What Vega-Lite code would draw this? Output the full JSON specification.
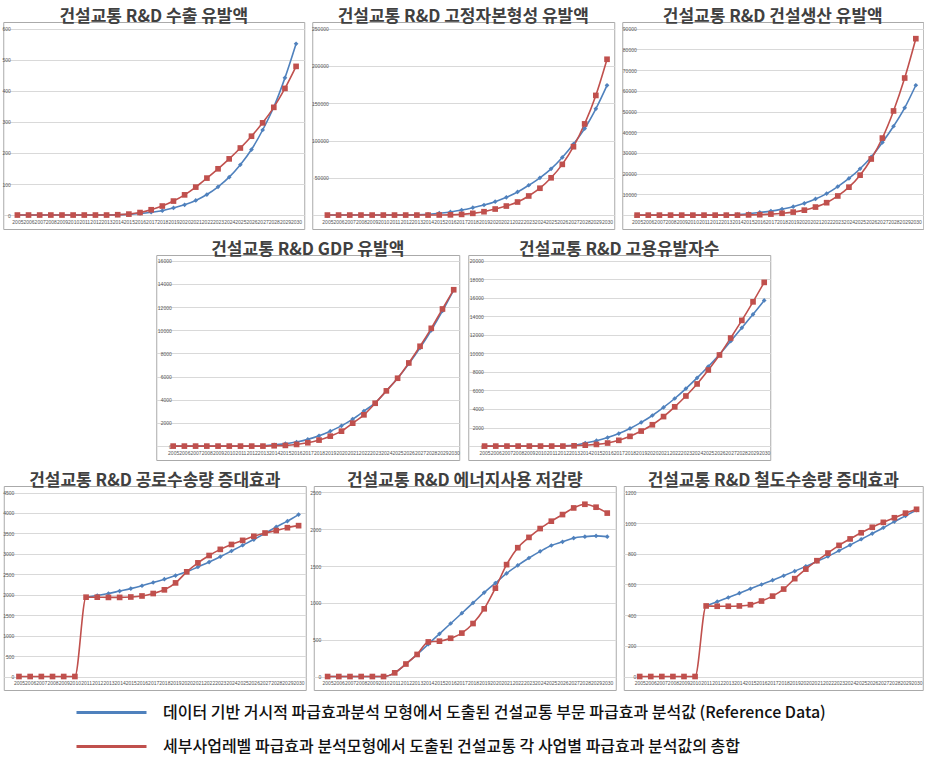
{
  "$schema": "https://vega.github.io/schema/vega-lite/v6.json",
  "background": "white",
  "padding": {"left": 1, "top": 7, "right": 0, "bottom": 0},
  "datasets": {
    "d": [
      {"p":1,"year":2005,"a":0,"b":0},{"p":1,"year":2006,"a":0,"b":0},{"p":1,"year":2007,"a":0,"b":0},{"p":1,"year":2008,"a":0,"b":0},{"p":1,"year":2009,"a":0,"b":0},{"p":1,"year":2010,"a":0,"b":0},{"p":1,"year":2011,"a":0,"b":0},{"p":1,"year":2012,"a":0,"b":0},{"p":1,"year":2013,"a":0,"b":0},{"p":1,"year":2014,"a":0.5,"b":1},{"p":1,"year":2015,"a":2,"b":3},{"p":1,"year":2016,"a":5,"b":8},{"p":1,"year":2017,"a":9,"b":17},{"p":1,"year":2018,"a":14,"b":29},{"p":1,"year":2019,"a":23,"b":45},{"p":1,"year":2020,"a":33,"b":65},{"p":1,"year":2021,"a":47,"b":90},{"p":1,"year":2022,"a":66,"b":119},{"p":1,"year":2023,"a":91,"b":149},{"p":1,"year":2024,"a":122,"b":181},{"p":1,"year":2025,"a":162,"b":216},{"p":1,"year":2026,"a":211,"b":254},{"p":1,"year":2027,"a":274,"b":297},{"p":1,"year":2028,"a":348,"b":347},{"p":1,"year":2029,"a":442,"b":408},{"p":1,"year":2030,"a":552,"b":479},
      {"p":2,"year":2005,"a":0,"b":0},{"p":2,"year":2006,"a":0,"b":0},{"p":2,"year":2007,"a":0,"b":0},{"p":2,"year":2008,"a":0,"b":0},{"p":2,"year":2009,"a":0,"b":0},{"p":2,"year":2010,"a":0,"b":0},{"p":2,"year":2011,"a":0,"b":0},{"p":2,"year":2012,"a":0,"b":0},{"p":2,"year":2013,"a":300,"b":0},{"p":2,"year":2014,"a":1000,"b":0},{"p":2,"year":2015,"a":2500,"b":100},{"p":2,"year":2016,"a":4200,"b":300},{"p":2,"year":2017,"a":6700,"b":900},{"p":2,"year":2018,"a":9900,"b":2300},{"p":2,"year":2019,"a":13500,"b":4500},{"p":2,"year":2020,"a":18000,"b":8100},{"p":2,"year":2021,"a":23800,"b":12100},{"p":2,"year":2022,"a":31000,"b":17500},{"p":2,"year":2023,"a":40000,"b":25600},{"p":2,"year":2024,"a":50000,"b":36000},{"p":2,"year":2025,"a":62000,"b":50000},{"p":2,"year":2026,"a":77300,"b":68000},{"p":2,"year":2027,"a":95300,"b":91700},{"p":2,"year":2028,"a":116000,"b":122300},{"p":2,"year":2029,"a":142500,"b":160500},{"p":2,"year":2030,"a":174000,"b":209000},
      {"p":3,"year":2005,"a":0,"b":0},{"p":3,"year":2006,"a":0,"b":0},{"p":3,"year":2007,"a":0,"b":0},{"p":3,"year":2008,"a":0,"b":0},{"p":3,"year":2009,"a":0,"b":0},{"p":3,"year":2010,"a":0,"b":0},{"p":3,"year":2011,"a":0,"b":0},{"p":3,"year":2012,"a":0,"b":0},{"p":3,"year":2013,"a":100,"b":0},{"p":3,"year":2014,"a":300,"b":0},{"p":3,"year":2015,"a":700,"b":100},{"p":3,"year":2016,"a":1300,"b":200},{"p":3,"year":2017,"a":1950,"b":500},{"p":3,"year":2018,"a":2900,"b":900},{"p":3,"year":2019,"a":4060,"b":1460},{"p":3,"year":2020,"a":5700,"b":2400},{"p":3,"year":2021,"a":7800,"b":3900},{"p":3,"year":2022,"a":10400,"b":6000},{"p":3,"year":2023,"a":13800,"b":9250},{"p":3,"year":2024,"a":17700,"b":13500},{"p":3,"year":2025,"a":22400,"b":19300},{"p":3,"year":2026,"a":28100,"b":27100},{"p":3,"year":2027,"a":35100,"b":37200},{"p":3,"year":2028,"a":42900,"b":50300},{"p":3,"year":2029,"a":51800,"b":66200},{"p":3,"year":2030,"a":62700,"b":85200},
      {"p":4,"year":2005,"a":0,"b":0},{"p":4,"year":2006,"a":0,"b":0},{"p":4,"year":2007,"a":0,"b":0},{"p":4,"year":2008,"a":0,"b":0},{"p":4,"year":2009,"a":0,"b":0},{"p":4,"year":2010,"a":0,"b":0},{"p":4,"year":2011,"a":0,"b":0},{"p":4,"year":2012,"a":0,"b":0},{"p":4,"year":2013,"a":30,"b":0},{"p":4,"year":2014,"a":115,"b":30},{"p":4,"year":2015,"a":210,"b":60},{"p":4,"year":2016,"a":350,"b":145},{"p":4,"year":2017,"a":580,"b":290},{"p":4,"year":2018,"a":890,"b":520},{"p":4,"year":2019,"a":1290,"b":860},{"p":4,"year":2020,"a":1750,"b":1290},{"p":4,"year":2021,"a":2330,"b":1980},{"p":4,"year":2022,"a":3020,"b":2700},{"p":4,"year":2023,"a":3735,"b":3700},{"p":4,"year":2024,"a":4770,"b":4770},{"p":4,"year":2025,"a":5860,"b":5860},{"p":4,"year":2026,"a":7100,"b":7180},{"p":4,"year":2027,"a":8480,"b":8620},{"p":4,"year":2028,"a":10000,"b":10170},{"p":4,"year":2029,"a":11670,"b":11840},{"p":4,"year":2030,"a":13480,"b":13500},
      {"p":5,"year":2005,"a":0,"b":0},{"p":5,"year":2006,"a":0,"b":0},{"p":5,"year":2007,"a":0,"b":0},{"p":5,"year":2008,"a":0,"b":0},{"p":5,"year":2009,"a":0,"b":0},{"p":5,"year":2010,"a":0,"b":0},{"p":5,"year":2011,"a":0,"b":0},{"p":5,"year":2012,"a":20,"b":0},{"p":5,"year":2013,"a":100,"b":30},{"p":5,"year":2014,"a":330,"b":100},{"p":5,"year":2015,"a":580,"b":180},{"p":5,"year":2016,"a":920,"b":330},{"p":5,"year":2017,"a":1350,"b":620},{"p":5,"year":2018,"a":1900,"b":1050},{"p":5,"year":2019,"a":2550,"b":1620},{"p":5,"year":2020,"a":3300,"b":2300},{"p":5,"year":2021,"a":4170,"b":3180},{"p":5,"year":2022,"a":5130,"b":4230},{"p":5,"year":2023,"a":6200,"b":5400},{"p":5,"year":2024,"a":7350,"b":6700},{"p":5,"year":2025,"a":8580,"b":8200},{"p":5,"year":2026,"a":9880,"b":9820},{"p":5,"year":2027,"a":11300,"b":11650},{"p":5,"year":2028,"a":12750,"b":13550},{"p":5,"year":2029,"a":14200,"b":15550},{"p":5,"year":2030,"a":15700,"b":17650},
      {"p":6,"year":2005,"a":null,"b":0},{"p":6,"year":2006,"a":null,"b":0},{"p":6,"year":2007,"a":null,"b":0},{"p":6,"year":2008,"a":null,"b":0},{"p":6,"year":2009,"a":null,"b":0},{"p":6,"year":2010,"a":null,"b":0},{"p":6,"year":2011,"a":1940,"b":1940},{"p":6,"year":2012,"a":1980,"b":1940},{"p":6,"year":2013,"a":2030,"b":1935},{"p":6,"year":2014,"a":2090,"b":1935},{"p":6,"year":2015,"a":2150,"b":1945},{"p":6,"year":2016,"a":2220,"b":1970},{"p":6,"year":2017,"a":2300,"b":2030},{"p":6,"year":2018,"a":2380,"b":2120},{"p":6,"year":2019,"a":2470,"b":2290},{"p":6,"year":2020,"a":2560,"b":2560},{"p":6,"year":2021,"a":2680,"b":2780},{"p":6,"year":2022,"a":2800,"b":2960},{"p":6,"year":2023,"a":2930,"b":3110},{"p":6,"year":2024,"a":3070,"b":3230},{"p":6,"year":2025,"a":3210,"b":3330},{"p":6,"year":2026,"a":3350,"b":3430},{"p":6,"year":2027,"a":3500,"b":3510},{"p":6,"year":2028,"a":3660,"b":3570},{"p":6,"year":2029,"a":3800,"b":3640},{"p":6,"year":2030,"a":3960,"b":3690},
      {"p":7,"year":2005,"a":0,"b":0},{"p":7,"year":2006,"a":0,"b":0},{"p":7,"year":2007,"a":0,"b":0},{"p":7,"year":2008,"a":0,"b":0},{"p":7,"year":2009,"a":0,"b":0},{"p":7,"year":2010,"a":0,"b":0},{"p":7,"year":2011,"a":50,"b":50},{"p":7,"year":2012,"a":170,"b":170},{"p":7,"year":2013,"a":300,"b":300},{"p":7,"year":2014,"a":440,"b":470},{"p":7,"year":2015,"a":580,"b":480},{"p":7,"year":2016,"a":720,"b":520},{"p":7,"year":2017,"a":860,"b":590},{"p":7,"year":2018,"a":1000,"b":720},{"p":7,"year":2019,"a":1140,"b":920},{"p":7,"year":2020,"a":1270,"b":1200},{"p":7,"year":2021,"a":1400,"b":1520},{"p":7,"year":2022,"a":1510,"b":1750},{"p":7,"year":2023,"a":1610,"b":1890},{"p":7,"year":2024,"a":1700,"b":2010},{"p":7,"year":2025,"a":1780,"b":2110},{"p":7,"year":2026,"a":1830,"b":2200},{"p":7,"year":2027,"a":1880,"b":2290},{"p":7,"year":2028,"a":1900,"b":2340},{"p":7,"year":2029,"a":1910,"b":2300},{"p":7,"year":2030,"a":1900,"b":2220},
      {"p":8,"year":2005,"a":null,"b":0},{"p":8,"year":2006,"a":null,"b":0},{"p":8,"year":2007,"a":null,"b":0},{"p":8,"year":2008,"a":null,"b":0},{"p":8,"year":2009,"a":null,"b":0},{"p":8,"year":2010,"a":null,"b":0},{"p":8,"year":2011,"a":460,"b":460},{"p":8,"year":2012,"a":488,"b":458},{"p":8,"year":2013,"a":515,"b":458},{"p":8,"year":2014,"a":543,"b":460},{"p":8,"year":2015,"a":572,"b":468},{"p":8,"year":2016,"a":600,"b":492},{"p":8,"year":2017,"a":628,"b":524},{"p":8,"year":2018,"a":657,"b":570},{"p":8,"year":2019,"a":687,"b":638},{"p":8,"year":2020,"a":718,"b":700},{"p":8,"year":2021,"a":750,"b":755},{"p":8,"year":2022,"a":783,"b":805},{"p":8,"year":2023,"a":820,"b":855},{"p":8,"year":2024,"a":857,"b":897},{"p":8,"year":2025,"a":895,"b":937},{"p":8,"year":2026,"a":932,"b":973},{"p":8,"year":2027,"a":970,"b":1005},{"p":8,"year":2028,"a":1010,"b":1035},{"p":8,"year":2029,"a":1047,"b":1065},{"p":8,"year":2030,"a":1085,"b":1090}
    ]
  },
  "data": {"name": "d"},
  "vconcat": [
    {"hconcat": [
      {"title": "건설교통 R&D 수출 유발액", "width": 301, "height": 207,
       "transform": [{"filter": "datum.p == 1"}, {"fold": ["a", "b"], "as": ["s", "v"]}],
       "encoding": {
         "x": {"field": "year", "type": "ordinal", "scale": {"type": "point", "padding": 1.24, "align": 0.634}},
         "y": {"field": "v", "type": "quantitative", "scale": {"domain": [-45, 622], "nice": false, "zero": false}, "axis": {"values": [0,100,200,300,400,500,600], "labelPadding": -7}},
         "color": {"field": "s", "type": "nominal", "scale": {"domain": ["a", "b"], "range": ["#4F81BD", "#C0504D"]},
                   "legend": {"orient": "none", "legendX": 100, "legendY": 682, "direction": "vertical", "title": null, "padding": 0, "symbolType": "M-5,0H5", "symbolSize": 196, "symbolStrokeWidth": 3, "symbolFillColor": "transparent", "labelOffset": 43, "labelFontSize": 16, "labelFont": "Noto Sans CJK KR", "labelFontWeight": 500, "labelColor": "#111111", "labelLimit": 1000, "rowPadding": 17,
                              "labelExpr": "datum.value == 'a' ? '데이터 기반 거시적 파급효과분석 모형에서 도출된 건설교통 부문 파급효과 분석값 (Reference Data)' : '세부사업레벨 파급효과 분석모형에서 도출된 건설교통 각 사업별 파급효과 분석값의 총합'"}}
       },
       "layer": [
         {"mark": {"type": "line", "interpolate": "monotone", "strokeWidth": 1.6}},
         {"transform": [{"filter": "datum.s == 'a'"}], "mark": {"type": "point", "filled": true, "opacity": 1, "size": 22, "shape": "diamond"}},
         {"transform": [{"filter": "datum.s == 'b'"}], "mark": {"type": "point", "filled": true, "opacity": 1, "size": 32, "shape": "square"}}
       ]},
      {"title": "건설교통 R&D 고정자본형성 유발액", "width": 302, "height": 207,
       "transform": [{"filter": "datum.p == 2"}, {"fold": ["a", "b"], "as": ["s", "v"]}],
       "encoding": {
         "x": {"field": "year", "type": "ordinal", "scale": {"type": "point", "padding": 1.92, "align": 0.677}},
         "y": {"field": "v", "type": "quantitative", "scale": {"domain": [-18700, 259000], "nice": false, "zero": false}, "axis": {"values": [0,50000,100000,150000,200000,250000], "labelPadding": -16}},
         "color": {"field": "s", "type": "nominal", "scale": {"domain": ["a", "b"], "range": ["#4F81BD", "#C0504D"]}}
       },
       "layer": [
         {"mark": {"type": "line", "interpolate": "monotone", "strokeWidth": 1.6}},
         {"transform": [{"filter": "datum.s == 'a'"}], "mark": {"type": "point", "filled": true, "opacity": 1, "size": 22, "shape": "diamond"}},
         {"transform": [{"filter": "datum.s == 'b'"}], "mark": {"type": "point", "filled": true, "opacity": 1, "size": 32, "shape": "square"}}
       ]},
      {"title": "건설교통 R&D 건설생산 유발액", "width": 301, "height": 207,
       "transform": [{"filter": "datum.p == 3"}, {"fold": ["a", "b"], "as": ["s", "v"]}],
       "encoding": {
         "x": {"field": "year", "type": "ordinal", "scale": {"type": "point", "padding": 1.69, "align": 0.667}},
         "y": {"field": "v", "type": "quantitative", "scale": {"domain": [-6700, 93250], "nice": false, "zero": false}, "axis": {"values": [0,10000,20000,30000,40000,50000,60000,70000,80000,90000], "labelPadding": -14}},
         "color": {"field": "s", "type": "nominal", "scale": {"domain": ["a", "b"], "range": ["#4F81BD", "#C0504D"]}}
       },
       "layer": [
         {"mark": {"type": "line", "interpolate": "monotone", "strokeWidth": 1.6}},
         {"transform": [{"filter": "datum.s == 'a'"}], "mark": {"type": "point", "filled": true, "opacity": 1, "size": 22, "shape": "diamond"}},
         {"transform": [{"filter": "datum.s == 'b'"}], "mark": {"type": "point", "filled": true, "opacity": 1, "size": 32, "shape": "square"}}
       ]}
    ], "spacing": 8, "bounds": "flush"},
    {"hconcat": [
      {"title": "건설교통 R&D GDP 유발액", "width": 303, "height": 205,
       "transform": [{"filter": "datum.p == 4"}, {"fold": ["a", "b"], "as": ["s", "v"]}],
       "encoding": {
         "x": {"field": "year", "type": "ordinal", "scale": {"type": "point", "padding": 1.77, "align": 0.753}},
         "y": {"field": "v", "type": "quantitative", "scale": {"domain": [-1200, 16500], "nice": false, "zero": false}, "axis": {"values": [0,2000,4000,6000,8000,10000,12000,14000,16000], "labelPadding": -15}},
         "color": {"field": "s", "type": "nominal", "scale": {"domain": ["a", "b"], "range": ["#4F81BD", "#C0504D"]}}
       },
       "layer": [
         {"mark": {"type": "line", "interpolate": "monotone", "strokeWidth": 1.6}},
         {"transform": [{"filter": "datum.s == 'a'"}], "mark": {"type": "point", "filled": true, "opacity": 1, "size": 22, "shape": "diamond"}},
         {"transform": [{"filter": "datum.s == 'b'"}], "mark": {"type": "point", "filled": true, "opacity": 1, "size": 32, "shape": "square"}}
       ]},
      {"title": "건설교통 R&D 고용유발자수", "width": 302, "height": 205,
       "transform": [{"filter": "datum.p == 5"}, {"fold": ["a", "b"], "as": ["s", "v"]}],
       "encoding": {
         "x": {"field": "year", "type": "ordinal", "scale": {"type": "point", "padding": 1.76, "align": 0.73}},
         "y": {"field": "v", "type": "quantitative", "scale": {"domain": [-1500, 20600], "nice": false, "zero": false}, "axis": {"values": [0,2000,4000,6000,8000,10000,12000,14000,16000,18000,20000], "labelPadding": -15}},
         "color": {"field": "s", "type": "nominal", "scale": {"domain": ["a", "b"], "range": ["#4F81BD", "#C0504D"]}}
       },
       "layer": [
         {"mark": {"type": "line", "interpolate": "monotone", "strokeWidth": 1.6}},
         {"transform": [{"filter": "datum.s == 'a'"}], "mark": {"type": "point", "filled": true, "opacity": 1, "size": 22, "shape": "diamond"}},
         {"transform": [{"filter": "datum.s == 'b'"}], "mark": {"type": "point", "filled": true, "opacity": 1, "size": 32, "shape": "square"}}
       ]}
    ], "spacing": 9, "bounds": "flush"},
    {"hconcat": [
      {"title": "건설교통 R&D 공로수송량 증대효과", "width": 302, "height": 204,
       "transform": [{"filter": "datum.p == 6"}, {"fold": ["a", "b"], "as": ["s", "v"]}],
       "encoding": {
         "x": {"field": "year", "type": "ordinal", "scale": {"type": "point", "padding": 1.46, "align": 0.68}},
         "y": {"field": "v", "type": "quantitative", "scale": {"domain": [-330, 4660], "nice": false, "zero": false}, "axis": {"values": [0,500,1000,1500,2000,2500,3000,3500,4000,4500], "labelPadding": -10}},
         "color": {"field": "s", "type": "nominal", "scale": {"domain": ["a", "b"], "range": ["#4F81BD", "#C0504D"]}}
       },
       "layer": [
         {"mark": {"type": "line", "interpolate": "monotone", "strokeWidth": 1.6}},
         {"transform": [{"filter": "datum.s == 'a'"}], "mark": {"type": "point", "filled": true, "opacity": 1, "size": 22, "shape": "diamond"}},
         {"transform": [{"filter": "datum.s == 'b'"}], "mark": {"type": "point", "filled": true, "opacity": 1, "size": 32, "shape": "square"}}
       ]},
      {"title": "건설교통 R&D 에너지사용 저감량", "width": 302, "height": 204,
       "transform": [{"filter": "datum.p == 7"}, {"fold": ["a", "b"], "as": ["s", "v"]}],
       "encoding": {
         "x": {"field": "year", "type": "ordinal", "scale": {"type": "point", "padding": 1.28, "align": 0.62}},
         "y": {"field": "v", "type": "quantitative", "scale": {"domain": [-183, 2588], "nice": false, "zero": false}, "axis": {"values": [0,500,1000,1500,2000,2500], "labelPadding": -7}},
         "color": {"field": "s", "type": "nominal", "scale": {"domain": ["a", "b"], "range": ["#4F81BD", "#C0504D"]}}
       },
       "layer": [
         {"mark": {"type": "line", "interpolate": "monotone", "strokeWidth": 1.6}},
         {"transform": [{"filter": "datum.s == 'a'"}], "mark": {"type": "point", "filled": true, "opacity": 1, "size": 22, "shape": "diamond"}},
         {"transform": [{"filter": "datum.s == 'b'"}], "mark": {"type": "point", "filled": true, "opacity": 1, "size": 32, "shape": "square"}}
       ]},
      {"title": "건설교통 R&D 철도수송량 증대효과", "width": 299, "height": 204,
       "transform": [{"filter": "datum.p == 8"}, {"fold": ["a", "b"], "as": ["s", "v"]}],
       "encoding": {
         "x": {"field": "year", "type": "ordinal", "scale": {"type": "point", "padding": 1.49, "align": 0.72}},
         "y": {"field": "v", "type": "quantitative", "scale": {"domain": [-88, 1242], "nice": false, "zero": false}, "axis": {"values": [0,200,400,600,800,1000,1200], "labelPadding": -12}},
         "color": {"field": "s", "type": "nominal", "scale": {"domain": ["a", "b"], "range": ["#4F81BD", "#C0504D"]}}
       },
       "layer": [
         {"mark": {"type": "line", "interpolate": "monotone", "strokeWidth": 1.6}},
         {"transform": [{"filter": "datum.s == 'a'"}], "mark": {"type": "point", "filled": true, "opacity": 1, "size": 22, "shape": "diamond"}},
         {"transform": [{"filter": "datum.s == 'b'"}], "mark": {"type": "point", "filled": true, "opacity": 1, "size": 32, "shape": "square"}}
       ]}
    ], "spacing": 8, "bounds": "flush"}
  ],
  "spacing": 10,
  "center": true,
  "config": {
    "font": "Noto Sans CJK KR",
    "view": {"stroke": "#aaaaaa", "strokeWidth": 1},
    "title": {"font": "Noto Sans CJK KR", "fontSize": 17, "fontWeight": "bold", "color": "#404040", "offset": -4, "anchor": "middle"},
    "axisY": {"grid": true, "gridColor": "#d9d9d9", "domain": false, "ticks": false, "tickSize": 0, "labelFontSize": 5, "labelColor": "#555555", "labelAlign": "right", "title": null, "labelFont": "Liberation Sans", "format": "d"},
    "axisX": {"grid": false, "domain": false, "ticks": false, "tickSize": 0, "labelFontSize": 5, "labelColor": "#555555", "labelAngle": 0, "labelPadding": -10, "labelOverlap": false, "title": null, "labelFont": "Liberation Sans", "labelBaseline": "top"}
  }
}
